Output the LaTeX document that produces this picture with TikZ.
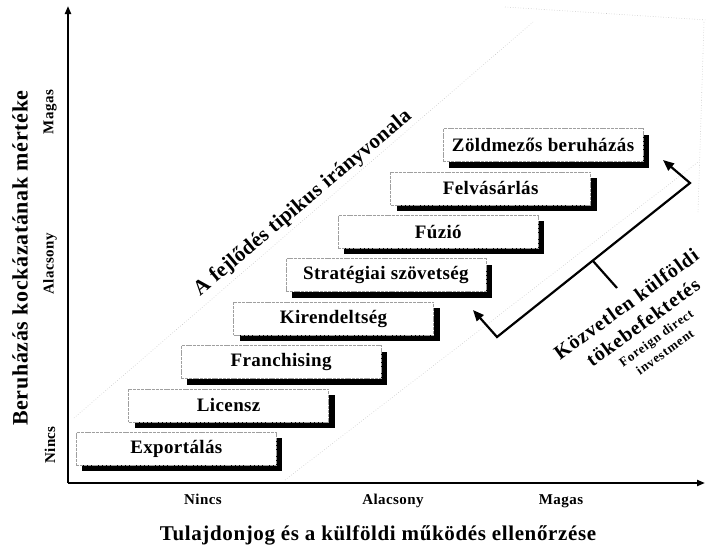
\documentclass[tikz,border=0pt]{standalone}
\usepackage{fontspec}
\setmainfont{Liberation Serif}
\usetikzlibrary{arrows.meta,shadows}
\begin{document}
\begin{tikzpicture}[x=1pt,y=-1pt,
  stepbox/.style={draw=gray!75, line width=0.6pt, dash pattern=on 3pt off 0.8pt, fill=white,
    minimum width=200pt, minimum height=33pt, inner sep=0pt, anchor=north west,
    font=\fontsize{19}{21}\selectfont\bfseries\addfontfeature{LetterSpace=2},
    drop shadow={shadow xshift=6pt, shadow yshift=-6pt, fill=black, opacity=1}},
  axisline/.style={line width=2.2pt, -{Triangle[length=8pt,width=6pt]}},
  bandline/.style={draw=gray!45, line width=0.6pt, dotted},
  ticklbl/.style={font=\fontsize{15}{17}\selectfont\bfseries\addfontfeature{LetterSpace=3}, inner sep=0pt},
  axislbl/.style={font=\fontsize{22}{24}\selectfont\bfseries\addfontfeature{LetterSpace=3}, inner sep=0pt},
  xlbl/.style={font=\fontsize{21}{23}\selectfont\bfseries\addfontfeature{LetterSpace=3}, inner sep=0pt},
  fdilbl/.style={font=\fontsize{20}{22}\selectfont\bfseries\addfontfeature{LetterSpace=5}, inner sep=0pt, rotate=36},
  fdien/.style={font=\fontsize{13}{15}\selectfont\bfseries\addfontfeature{LetterSpace=6}, inner sep=0pt, rotate=36},
  bracket/.style={line width=2.2pt, line join=miter, {Triangle[length=11pt,width=9pt]}-{Triangle[length=11pt,width=9pt]}}
]
\useasboundingbox (0,0) rectangle (707,546);

% dotted band
\coordinate (bandUL) at (74,418);
\coordinate (bandUR) at (533,22);
\coordinate (bandTL) at (505,7);
\coordinate (bandTR) at (707,20);
\coordinate (bandRT) at (704,22);
\coordinate (bandRB) at (698,212);
\coordinate (bandLB) at (285,480);
\coordinate (bandLT) at (698,162);
\draw[bandline] (bandUL) -- (bandUR);
\draw[bandline] (bandTL) -- (bandTR);
\draw[bandline] (bandRT) -- (bandRB);
\draw[bandline] (bandLB) -- (bandLT);

% axes
\coordinate (origin) at (68,483);
\coordinate (ytop) at (68,6);
\coordinate (xright) at (705,483);
\draw[axisline] (origin) -- (ytop);
\draw[axisline] (origin) -- (xright);

% steps
\node[stepbox] (export) at (76,432) {Exportálás};
\node[stepbox] (licensz) at (128.4,388.6) {Licensz};
\node[stepbox] (franch) at (180.8,345.2) {Franchising};
\node[stepbox] (kirend) at (233.2,301.8) {Kirendeltség};
\node[stepbox] (strat) at (285.6,258.4) {Stratégiai szövetség};
\node[stepbox] (fuzio) at (338,215) {Fúzió};
\node[stepbox] (felvas) at (390.4,171.6) {Felvásárlás};
\node[stepbox] (zold) at (442.8,128.2) {Zöldmezős beruházás};

% diagonal label
\node[font=\fontsize{21}{23}\selectfont\bfseries\addfontfeature{LetterSpace=1.5}, inner sep=0pt, rotate=40] (trend) at (303,203) {A fejlődés tipikus irányvonala};

% bracket arrow
\coordinate (brA) at (473,310);
\coordinate (brB) at (497,337);
\coordinate (brC) at (690,183);
\coordinate (brD) at (663,160);
\coordinate (brM) at (593,261);
\coordinate (brT) at (617,288);
\draw[bracket] (brA) -- (brB) -- (brC) -- (brD);
\draw[line width=2.2pt] (brM) -- (brT);

\node[fdilbl] (fdi1) at (626,304) {Közvetlen külföldi};
\node[fdilbl] (fdi2) at (643,322) {tökebefektetés};
\node[fdien] (fdi3) at (657,339) {Foreign direct};
\node[fdien] (fdi4) at (665,352) {investment};

% axis tick labels
\node[ticklbl, rotate=90] (yMagas) at (50,112) {Magas};
\node[ticklbl, rotate=90] (yAlac) at (50,264) {Alacsony};
\node[ticklbl, rotate=90] (yNincs) at (50,445) {Nincs};
\node[ticklbl, anchor=base] (xNincs) at (203,504) {Nincs};
\node[ticklbl, anchor=base] (xAlac) at (393,504) {Alacsony};
\node[ticklbl, anchor=base] (xMagas) at (561,504) {Magas};

% axis titles
\node[axislbl, rotate=90] (ytitle) at (20,258) {Beruházás kockázatának mértéke};
\node[xlbl] (xtitle) at (378,535) {Tulajdonjog és a külföldi működés ellenőrzése};
\end{tikzpicture}
\end{document}
